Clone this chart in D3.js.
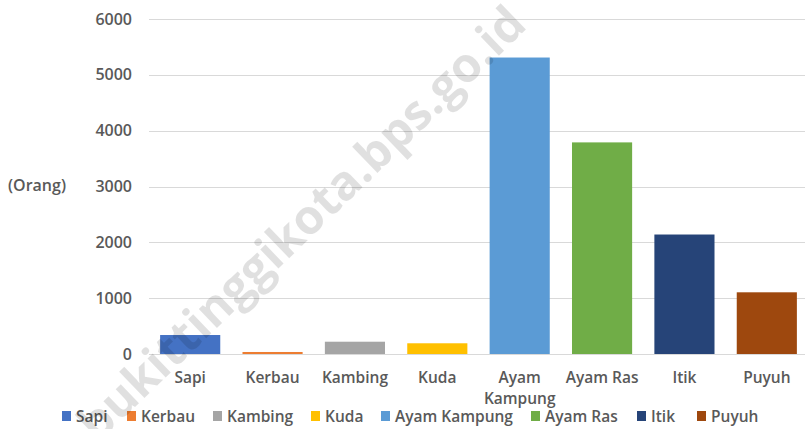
<!DOCTYPE html>
<html>
<head>
<meta charset="utf-8">
<script src="https://cdn.jsdelivr.net/npm/d3@7"></script>
<style>
  body { margin: 0; background: #fff; }
  svg { display: block; font-family: "Open Sans", sans-serif; }
</style>
</head>
<body>
<svg id="chart"></svg>
<script>
const categories = ["Sapi", "Kerbau", "Kambing", "Kuda", "Ayam Kampung", "Ayam Ras", "Itik", "Puyuh"];
const values = [340, 36, 220, 192, 5310, 3790, 2140, 1105];
const colors = ["#4472C4", "#ED7D31", "#A5A5A5", "#FFC000", "#5B9BD5", "#70AD47", "#264478", "#9E480E"];
const yTicks = [0, 1000, 2000, 3000, 4000, 5000, 6000];
const unitLabel = "(Orang)";
const watermark = "bukittinggikota.bps.go.id";

const width = 805;
const height = 429;
const margin = { top: 19, right: -3, bottom: 75, left: 149 };

const svg = d3.select("#chart")
    .attr("width", width)
    .attr("height", height);

const x = d3.scaleBand()
    .domain(categories)
    .range([margin.left, width - margin.right])
    .paddingInner(0.27)
    .paddingOuter(0.135);

const y = d3.scaleLinear()
    .domain([0, 6000])
    .range([height - margin.bottom, margin.top]);

// gridlines
svg.append("g")
    .selectAll("line")
    .data(yTicks)
    .join("line")
    .attr("x1", margin.left)
    .attr("x2", width)
    .attr("y1", d => Math.round(y(d)) + 0.5)
    .attr("y2", d => Math.round(y(d)) + 0.5)
    .attr("stroke", "#d9d9d9")
    .attr("stroke-width", 1);

// y axis labels
const yAxis = svg.append("g")
    .attr("transform", `translate(${margin.left - 17},0)`)
    .call(d3.axisLeft(y).tickValues(yTicks).tickSize(0).tickPadding(0).tickFormat(d3.format("d")));
yAxis.select(".domain").remove();
yAxis.selectAll("text")
    .attr("fill", "#595959")
    .style("font-size", "16px")
    .style("font-weight", "600")
    .style("font-family", "Open Sans, sans-serif");

svg.append("text")
    .attr("x", 8)
    .attr("y", 191)
    .attr("fill", "#595959")
    .style("font-size", "16px")
    .style("font-weight", "600")
    .text(unitLabel);

// bars
svg.append("g")
    .selectAll("rect")
    .data(categories)
    .join("rect")
    .attr("x", d => x(d))
    .attr("width", x.bandwidth())
    .attr("y", (d, i) => y(values[i]))
    .attr("height", (d, i) => y(0) - y(values[i]))
    .attr("fill", (d, i) => colors[i]);

// x labels (wrapped like the original)
const xl = svg.append("g")
    .selectAll("text")
    .data(categories)
    .join("text")
    .attr("x", d => x(d) + x.bandwidth() / 2)
    .attr("y", 383)
    .attr("text-anchor", "middle")
    .attr("fill", "#595959")
    .style("font-size", "15.5px")
    .style("font-weight", "600");
xl.each(function(d) {
    const words = d === "Ayam Kampung" ? ["Ayam", "Kampung"] : [d];
    d3.select(this).selectAll("tspan")
        .data(words)
        .join("tspan")
        .attr("x", x(d) + x.bandwidth() / 2)
        .attr("dy", (w, i) => i === 0 ? 0 : 21)
        .text(w => w);
});

// legend
const legendX = [62, 127, 213, 311, 381, 531, 637, 697];
const legend = svg.append("g")
    .selectAll("g")
    .data(categories)
    .join("g")
    .attr("transform", (d, i) => `translate(${legendX[i]},411)`);
legend.append("rect")
    .attr("width", 9)
    .attr("height", 10)
    .attr("fill", (d, i) => colors[i]);
legend.append("text")
    .attr("x", 14)
    .attr("y", 10.5)
    .attr("fill", "#595959")
    .style("font-size", "15.5px")
    .style("font-weight", "600")
    .text(d => d);

// watermark
svg.append("text")
    .attr("transform", "translate(304,226) rotate(-44)")
    .attr("text-anchor", "middle")
    .attr("dominant-baseline", "middle")
    .attr("fill", "#000")
    .attr("fill-opacity", 0.12)
    .style("font-size", "48px")
    .style("font-weight", "700")
    .style("font-family", "Open Sans, sans-serif")
    .text(watermark);
</script>
</body>
</html>
